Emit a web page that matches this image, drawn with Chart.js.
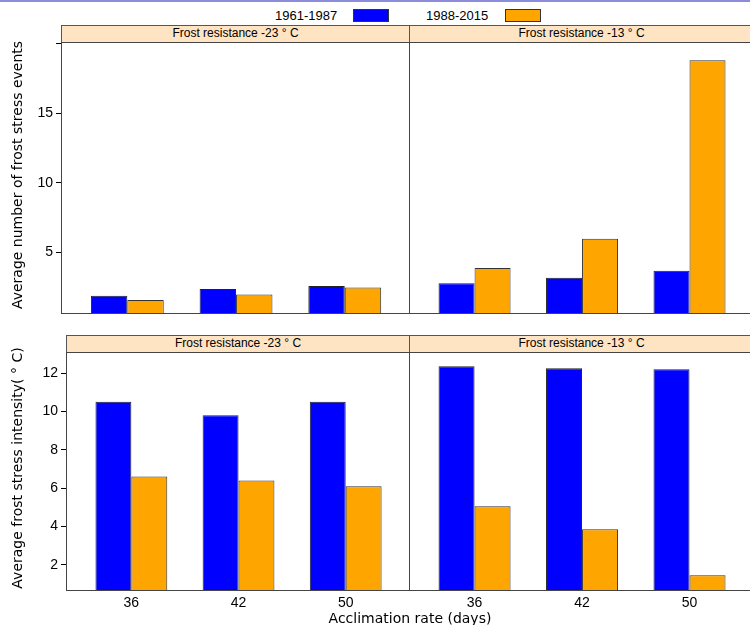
<!DOCTYPE html>
<html>
<head>
<meta charset="utf-8">
<script src="https://cdn.jsdelivr.net/npm/chart.js@4"></script>
<style>
  body { margin: 0; background: #fff; font-family: "Liberation Sans", Arial, sans-serif; }
  #page { position: relative; width: 750px; height: 625px; overflow: hidden; border-top: 2px solid #8c8cdc; box-sizing: border-box; }
  .abs { position: absolute; }
  .strip { position: absolute; background: #ffe4c4; border: 1px solid #555; box-sizing: border-box;
           font-size: 12px; text-align: center; line-height: 14px; color: #000; }
  .ytitle { position: absolute; transform: rotate(-90deg); transform-origin: center; white-space: nowrap;
            font-family: "DejaVu Sans", sans-serif; font-size: 14px; text-align: center; width: 300px; }
  .key { position: absolute; width: 36px; height: 13px; border: 1px solid #333; box-sizing: border-box; }
  .ktext { position: absolute; font-size: 13px; }
</style>
</head>
<body>
<div id="page">
  <div class="ktext" style="left:275px;top:6px;">1961-1987</div>
  <div class="key" style="left:353px;top:7px;background:#0000ff;"></div>
  <div class="ktext" style="left:426px;top:6px;">1988-2015</div>
  <div class="key" style="left:505px;top:7px;background:#ffa500;"></div>

  <div class="strip" style="left:61px;top:23px;width:349px;height:18px;">Frost resistance -23 ° C</div>
  <div class="strip" style="left:409px;top:23px;width:345px;height:18px;">Frost resistance -13 ° C</div>
  <div class="strip" style="left:66px;top:333px;width:344px;height:18px;">Frost resistance -23 ° C</div>
  <div class="strip" style="left:409px;top:333px;width:345px;height:18px;">Frost resistance -13 ° C</div>

  <canvas id="c1" class="abs" style="left:0;top:40px;"></canvas>
  <canvas id="c2" class="abs" style="left:409px;top:40px;"></canvas>
  <canvas id="c3" class="abs" style="left:0;top:350px;"></canvas>
  <canvas id="c4" class="abs" style="left:409px;top:350px;"></canvas>

  <div class="ytitle" style="left:-133px;top:165px;">Average number of frost stress events</div>
  <div class="ytitle" style="left:-133px;top:458px;">Average frost stress intensity( ° C)</div>
  <div class="abs" style="left:0;width:820px;top:608px;text-align:center;font-family:'DejaVu Sans',sans-serif;font-size:14px;">Acclimation rate (days)</div>
</div>
<script>
// acclimation rate categories
const categories = ['36', '42', '50'];
const seriesNames = ['1961-1987', '1988-2015'];

// frost stress events (top row)
const eventsCold1961 = [1.9, 2.4, 2.6];
const eventsCold1988 = [1.6, 2.0, 2.5];
const eventsWarm1961 = [2.8, 3.2, 3.7];
const eventsWarm1988 = [3.9, 6.0, 18.8];

// frost stress intensity (bottom row)
const intensCold1961 = [10.5, 9.8, 10.5];
const intensCold1988 = [6.6, 6.4, 6.1];
const intensWarm1961 = [12.35, 12.25, 12.2];
const intensWarm1988 = [5.05, 3.85, 1.45];

const eventTicks = [5, 10, 15, 20];
const intensTicks = [2, 4, 6, 8, 10, 12];

const frame = {
    id: 'frame',
    afterDraw(chart) {
        const a = chart.chartArea, c = chart.ctx;
        c.save();
        c.strokeStyle = '#444';
        c.lineWidth = 1;
        c.strokeRect(a.left + 0.5, a.top + 0.5, a.right - a.left - 0.5, a.bottom - a.top - 1);
        c.restore();
    }
};

// bars sit on a numeric x scale so the panel margins can match the reference
function toPoints(values) {
    return values.map((y, i) => ({ x: i, y: y }));
}

function makePanel(id, w, h, blue, orange, opts) {
    const canvas = document.getElementById(id);
    canvas.width = w;
    canvas.height = h;
    canvas.style.width = w + 'px';
    canvas.style.height = h + 'px';
    new Chart(canvas, {
        type: 'bar',
        data: {
            datasets: [
                { label: seriesNames[0], data: toPoints(blue), backgroundColor: '#0000ff', borderColor: '#222', borderWidth: 1 },
                { label: seriesNames[1], data: toPoints(orange), backgroundColor: '#ffa500', borderColor: '#333', borderWidth: 1 }
            ]
        },
        options: {
            responsive: false,
            animation: false,
            devicePixelRatio: 1,
            layout: { padding: 0 },
            plugins: { legend: { display: false }, tooltip: { enabled: false } },
            datasets: { bar: { categoryPercentage: 0.67, barPercentage: 1.0 } },
            scales: {
                x: {
                    type: 'linear',
                    display: opts.showX ? true : false,
                    offset: false,
                    min: -0.61, max: 2.6,
                    afterBuildTicks: s => { s.ticks = categories.map((c, i) => ({ value: i })); },
                    grid: { display: false },
                    border: { display: false },
                    ticks: {
                        color: '#000', font: { size: 14, family: 'Liberation Sans' }, padding: -4,
                        callback: v => categories[v]
                    },
                    afterFit: s => { if (opts.showX) s.height = 22; }
                },
                y: {
                    display: opts.showY ? true : false,
                    min: opts.min, max: opts.max,
                    afterBuildTicks: s => { s.ticks = opts.ticks.map(v => ({ value: v })); },
                    grid: { drawOnChartArea: false, tickLength: 5, color: '#000' },
                    border: { display: false },
                    ticks: {
                        color: '#000', font: { size: 14, family: 'Liberation Sans' }, padding: 3,
                        callback: v => (opts.hideTop && v === opts.ticks[opts.ticks.length - 1]) ? '' : v
                    },
                    afterFit: s => {
                        if (opts.showY) { s.width = opts.axisW; s.paddingTop = 0; s.paddingBottom = 0; }
                    }
                }
            }
        },
        plugins: [frame]
    });
}

makePanel('c1', 410, 272, eventsCold1961, eventsCold1988,
    { showY: true, axisW: 61, min: 0.6, max: 20.1, ticks: eventTicks, hideTop: true });
makePanel('c2', 345, 272, eventsWarm1961, eventsWarm1988,
    { min: 0.6, max: 20.1, ticks: eventTicks });
makePanel('c3', 410, 261, intensCold1961, intensCold1988,
    { showY: true, showX: true, axisW: 66, min: 0.63, max: 13.1, ticks: intensTicks });
makePanel('c4', 345, 261, intensWarm1961, intensWarm1988,
    { showX: true, min: 0.63, max: 13.1, ticks: intensTicks });
</script>
</body>
</html>
